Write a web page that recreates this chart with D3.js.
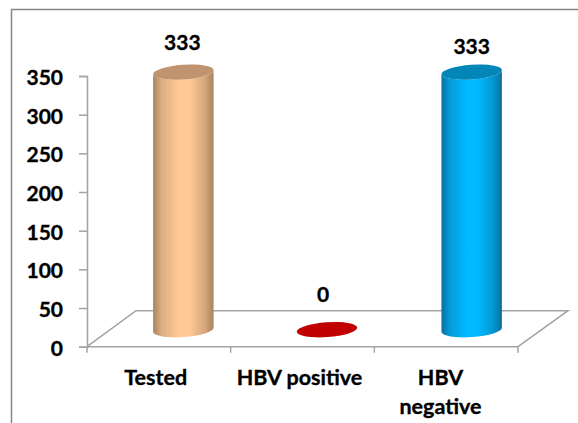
<!DOCTYPE html>
<html>
<head>
<meta charset="utf-8">
<script src="https://cdn.jsdelivr.net/npm/d3@7"></script>
<style>
    html, body { margin: 0; padding: 0; background: #fff; }
    svg { display: block; }
    text { font-family: Lato, "Open Sans", sans-serif; font-weight: 700; fill: #000; stroke: #000; stroke-width: 0.35px; }
</style>
</head>
<body>
<svg id="chart" width="578" height="423"></svg>
<script>
const categories = ["Tested", "HBV positive", "HBV negative"];
const values = [333, 0, 333];
const yTicks = [0, 50, 100, 150, 200, 250, 300, 350];
const bodyEdge = ["#a9835f", null, "#0a70a0"];
const bodyMid = ["#ffc996", null, "#00baff"];
const capFill = ["#bf946f", "#c00000", "#0286b8"];

const W = 578, H = 423;
const svg = d3.select("#chart").attr("viewBox", `0 0 ${W} ${H}`);

// ── Frame ─────────────────────────────────────────────────────────
svg.append("path")
    .attr("d", `M11.5,${H} V9.5 H${W}`)
    .attr("fill", "none").attr("stroke", "#868686").attr("stroke-width", 1.5);

// ── Scales ────────────────────────────────────────────────────────
const x0 = 87, x1 = 518, y0 = 346.7, yTop = 76;
const depthX = 49, depthY = 36;     // floor depth
const x = d3.scaleBand().domain(categories).range([x0, x1]);
const y = d3.scaleLinear().domain([0, 350]).range([y0, yTop]);

const axisColor = "#a3a3a3";

// ── Floor ─────────────────────────────────────────────────────────
svg.append("path")
    .attr("d", `M${x0},${y0} L${x0 + depthX},${y0 - depthY} H${x1 + depthX + 1} L${x1},${y0}`)
    .attr("fill", "none").attr("stroke", axisColor).attr("stroke-width", 1.5);

// ── Axes ──────────────────────────────────────────────────────────
const yAxis = d3.axisLeft(y).tickValues(yTicks).tickSize(8).tickPadding(16);
const yG = svg.append("g").attr("transform", `translate(${x0},0)`).call(yAxis);
yG.selectAll("path,line").attr("stroke", axisColor).attr("stroke-width", 1.5);
yG.selectAll("text").attr("font-size", 21).attr("font-family", null).attr("dy", "0.4em");

const xEdges = [...categories.map(c => x(c)), x1];
svg.append("line")
    .attr("x1", x0).attr("x2", x1).attr("y1", y0).attr("y2", y0)
    .attr("stroke", axisColor).attr("stroke-width", 1.5);
svg.selectAll(".xtick").data(xEdges).enter().append("line")
    .attr("x1", d => d).attr("x2", d => d)
    .attr("y1", y0).attr("y2", y0 + 6)
    .attr("stroke", axisColor).attr("stroke-width", 1.5);

// category labels, wrapped by hand like the original
const xLabelLines = [["Tested"], ["HBV positive"], ["HBV", "negative"]];
const xLabelX = [155.7, 299.5, 440.5];
categories.forEach((c, i) => {
    xLabelLines[i].forEach((line, j) => {
        svg.append("text")
            .attr("x", xLabelX[i]).attr("y", 385 + j * 28.5)
            .attr("text-anchor", "middle").attr("font-size", 21.5)
            .text(line);
    });
});

// ── Cylinders ─────────────────────────────────────────────────────
const defs = svg.append("defs");
const rx = 30.3, ry = 7.4, tilt = -4;
const offX = [24.5, 24.5, 25.5], offY = -17;      // columns stand in the middle of the floor
const dx = rx * Math.cos(tilt * Math.PI / 180);
const dy = rx * Math.sin(tilt * Math.PI / 180);
const labelY = [50, 302, 54];       // baselines, offset from the cap in the original

categories.forEach((c, i) => {
    const cx = x(c) + x.bandwidth() / 2 + offX[i];
    const base = y0 + offY;
    const top = y(values[i]) + offY;

    if (values[i] > 0) {
        const grad = defs.append("linearGradient").attr("id", `body${i}`);
        [[0, bodyEdge[i]], [0.14, d3.interpolate(bodyEdge[i], bodyMid[i])(0.6)],
         [0.42, bodyMid[i]], [0.6, bodyMid[i]],
         [0.86, d3.interpolate(bodyEdge[i], bodyMid[i])(0.5)], [1, bodyEdge[i]]]
            .forEach(s => grad.append("stop").attr("offset", s[0]).attr("stop-color", s[1]));

        svg.append("path")
            .attr("d", `M${cx - dx},${top - dy} L${cx - dx},${base - dy}
                        A${rx},${ry} ${tilt} 0 0 ${cx + dx},${base + dy}
                        L${cx + dx},${top + dy}
                        A${rx},${ry} ${tilt} 0 1 ${cx - dx},${top - dy} Z`)
            .attr("fill", `url(#body${i})`);
    }
    svg.append("ellipse")
        .attr("cx", cx).attr("cy", top)
        .attr("rx", rx).attr("ry", ry)
        .attr("transform", `rotate(${tilt} ${cx} ${top})`)
        .attr("fill", capFill[i]);

    // data label
    svg.append("text")
        .attr("x", cx + [-1, -4, 0][i])
        .attr("y", labelY[i])
        .attr("text-anchor", "middle").attr("font-size", 21)
        .text(values[i]);
});
</script>
</body>
</html>
